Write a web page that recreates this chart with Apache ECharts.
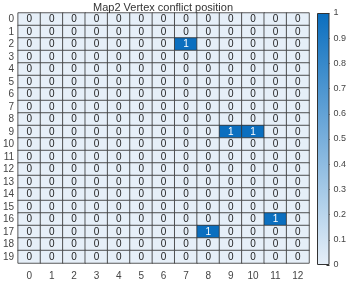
<!DOCTYPE html>
<html><head><meta charset="utf-8">
<script src="https://cdn.jsdelivr.net/npm/echarts@6/dist/echarts.min.js"></script>
<style>html,body{margin:0;padding:0;background:#fff}#c{width:349px;height:281px}</style>
</head><body><div id="c"></div>
<script>
const title = 'Map2 Vertex conflict position';
const xCats = ['0','1','2','3','4','5','6','7','8','9','10','11','12'];
const yCats = ['0','1','2','3','4','5','6','7','8','9','10','11','12','13','14','15','16','17','18','19'];
const values = [
 [0,0,0,0,0,0,0,0,0,0,0,0,0],
 [0,0,0,0,0,0,0,0,0,0,0,0,0],
 [0,0,0,0,0,0,0,1,0,0,0,0,0],
 [0,0,0,0,0,0,0,0,0,0,0,0,0],
 [0,0,0,0,0,0,0,0,0,0,0,0,0],
 [0,0,0,0,0,0,0,0,0,0,0,0,0],
 [0,0,0,0,0,0,0,0,0,0,0,0,0],
 [0,0,0,0,0,0,0,0,0,0,0,0,0],
 [0,0,0,0,0,0,0,0,0,0,0,0,0],
 [0,0,0,0,0,0,0,0,0,1,1,0,0],
 [0,0,0,0,0,0,0,0,0,0,0,0,0],
 [0,0,0,0,0,0,0,0,0,0,0,0,0],
 [0,0,0,0,0,0,0,0,0,0,0,0,0],
 [0,0,0,0,0,0,0,0,0,0,0,0,0],
 [0,0,0,0,0,0,0,0,0,0,0,0,0],
 [0,0,0,0,0,0,0,0,0,0,0,0,0],
 [0,0,0,0,0,0,0,0,0,0,0,1,0],
 [0,0,0,0,0,0,0,0,1,0,0,0,0],
 [0,0,0,0,0,0,0,0,0,0,0,0,0],
 [0,0,0,0,0,0,0,0,0,0,0,0,0]
];
const cMin = 0, cMax = 1;
const lowColor = '#e6eff8', highColor = '#0b6fbf';
const FONT = 'Liberation Sans, Arial, sans-serif';

const data = [];
values.forEach((row, r) => row.forEach((v, c) => {
  data.push({ value: [c, r, v], label: { color: v > 0.5 ? '#fff' : '#222' } });
}));

const chart = echarts.init(document.getElementById('c'), null, { renderer: 'canvas' });
chart.setOption({
  animation: false,
  textStyle: { fontFamily: FONT },
  title: { text: title, left: 158, top: -3, textAlign: 'center',
    textStyle: { fontSize: 11, fontWeight: 'normal', color: '#333', fontFamily: FONT } },
  grid: [
    { left: 15, top: 13, width: 294, height: 252 },
    { left: 317, top: 13, width: 16, height: 252 }
  ],
  xAxis: [
    { type: 'category', data: xCats, gridIndex: 0, position: 'bottom',
      axisLine: { show: false }, axisTick: { show: false },
      axisLabel: { interval: 0, fontSize: 10, color: '#444', margin: 8, fontFamily: FONT }, splitLine: { show: false } },
    { type: 'category', data: ['c'], gridIndex: 1, show: false }
  ],
  yAxis: [
    { type: 'category', data: yCats, gridIndex: 0, inverse: true,
      axisLine: { show: false }, axisTick: { show: false },
      axisLabel: { interval: 0, fontSize: 10, color: '#444', margin: 4, fontFamily: FONT } },
    { type: 'value', gridIndex: 1, min: cMin, max: cMax, interval: 0.1, position: 'right',
      axisLine: { show: false },
      axisTick: { show: true, inside: true, length: 3, lineStyle: { color: '#333' } },
      axisLabel: { fontSize: 9, color: '#444', margin: 4, fontFamily: FONT },
      splitLine: { show: false } }
  ],
  visualMap: { show: false, min: cMin, max: cMax, seriesIndex: 0, dimension: 2,
    inRange: { color: [lowColor, highColor] } },
  series: [
    { type: 'heatmap', xAxisIndex: 0, yAxisIndex: 0, data: data,
      itemStyle: { borderColor: '#333', borderWidth: 0.8 },
      label: { show: true, fontSize: 10, fontFamily: FONT, formatter: p => String(p.value[2]) },
      emphasis: { disabled: true } },
    { type: 'bar', xAxisIndex: 1, yAxisIndex: 1, data: [cMax], barWidth: '100%',
      itemStyle: { borderColor: '#333', borderWidth: 1,
        color: new echarts.graphic.LinearGradient(0, 1, 0, 0, [
          { offset: 0, color: lowColor }, { offset: 1, color: highColor }]) },
      silent: true }
  ]
});
</script></body></html>
